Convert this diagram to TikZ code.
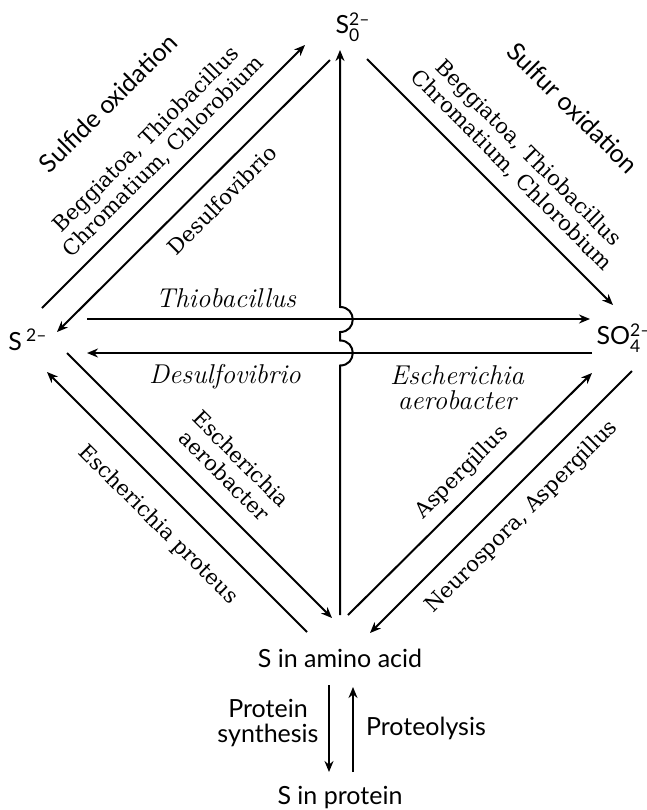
\documentclass[tikz,border=0pt]{standalone}
\usepackage{amsmath}
\usepackage{fontspec}
\setsansfont{Lato}
\newfontfamily\bugfont{DejaVu Serif}
\usetikzlibrary{arrows.meta,calc}

\tikzset{
  arr/.style={-{Stealth[length=5.5pt,width=4.5pt]}},
  chem/.style={font=\sffamily\fontsize{12.5}{12.5}\selectfont, inner sep=0pt},
  bug/.style={font=\bugfont\fontsize{10.6}{12}\selectfont, inner sep=0pt, align=center},
  ibug/.style={bug, font=\rmfamily\itshape\fontsize{13.6}{12.5}\selectfont},
}

\begin{document}
\begin{tikzpicture}[x=0.5pt,y=-0.5pt,line width=1pt]
  \useasboundingbox (0,0) rectangle (647,810);
  % sulfur forms
  \node[chem] (S0) at (353,27) {S$^{\text{2–}}_{\text{0}}$};
  \node[chem] (S2) at (28,340) {S\,$^{\text{2–}}$};
  \node[chem] (SO4) at (624,338) {SO$^{\text{2–}}_{\text{4}}$};
  \node[chem] (AA) at (340,658) {S in amino acid};
  \node[chem] (SP) at (340,798) {S in protein};
  % end points
  \coordinate (A1) at (42,308);  \coordinate (A2) at (305,45);
  \coordinate (B1) at (330,60);  \coordinate (B2) at (57,332);
  \coordinate (C1) at (367,59);  \coordinate (C2) at (613,305);
  \coordinate (D1) at (307,632); \coordinate (D2) at (47,372);
  \coordinate (E1) at (67,353);  \coordinate (E2) at (332,618);
  \coordinate (F1) at (348,615); \coordinate (F2) at (592,373);
  \coordinate (G1) at (632,371); \coordinate (G2) at (370,633);
  \coordinate (T1) at (87,319);  \coordinate (T2) at (590,319);
  \coordinate (R1) at (592,353); \coordinate (R2) at (87,353);
  \coordinate (V1) at (340,615); \coordinate (V2) at (340,50);
  \coordinate (H1) at (340,319.5);
  \coordinate (H2) at (340,353);
  \coordinate (P1) at (329,685); \coordinate (P2) at (329,772);
  \coordinate (Q1) at (353,772); \coordinate (Q2) at (353,687);
  \draw[arr] (A1) -- (A2);
  \draw[arr] (B1) -- (B2);
  \draw[arr] (C1) -- (C2);
  \draw[arr] (D1) -- (D2);
  \draw[arr] (E1) -- (E2);
  \draw[arr] (F1) -- (F2);
  \draw[arr] (G1) -- (G2);
  \draw[arr] (T1) -- (T2);
  \draw[arr] (R1) -- (R2);
  % vertical line hops over the two horizontal ones
  \draw[arr] (V1) -- ($(H2)+(0,12.5)$)
    .. controls ($(H2)+(17,12.5)$) and ($(H2)+(17,-12.5)$) .. ($(H2)+(0,-12.5)$)
    -- ($(H1)+(0,12.5)$)
    .. controls ($(H1)+(17,12.5)$) and ($(H1)+(17,-12.5)$) .. ($(H1)+(0,-12.5)$)
    -- (V2);
  \draw[arr] (P1) -- (P2);
  \draw[arr] (Q1) -- (Q2);
  % labels
  \node[chem,rotate=45] (ox1) at (108,103) {Sulfide oxidation};
  \node[chem,rotate=-45] (ox2) at (573,108) {Sulfur oxidation};
  \node[bug,rotate=45] (b1) at (155,148) {Beggiatoa, Thiobacillus\\Chromatium, Chlorobium};
  \node[bug,rotate=-45] (b2) at (520,162) {Beggiatoa, Thiobacillus\\Chromatium, Chlorobium};
  \node[bug,rotate=45] (b3) at (222,200) {Desulfovibrio};
  \node[ibug] (b4) at (226,298) {Thiobacillus};
  \node[ibug] (b5) at (225,377) {Desulfovibrio};
  \node[ibug] (b6) at (457,388) {Escherichia\\aerobacter};
  \node[bug,rotate=-45] (b7) at (233,467) {Escherichia\\aerobacter};
  \node[bug,rotate=-45] (b8) at (158,525) {Escherichia proteus};
  \node[bug,rotate=45] (b9) at (462,473) {Aspergillus};
  \node[bug,rotate=45] (b10) at (522,517) {Neurospora, Aspergillus};
  \node[chem,align=center] (ps) at (268,723) {Protein\\synthesis};
  \node[chem,anchor=west] (pl) at (365,728) {Proteolysis};
\end{tikzpicture}
\end{document}
